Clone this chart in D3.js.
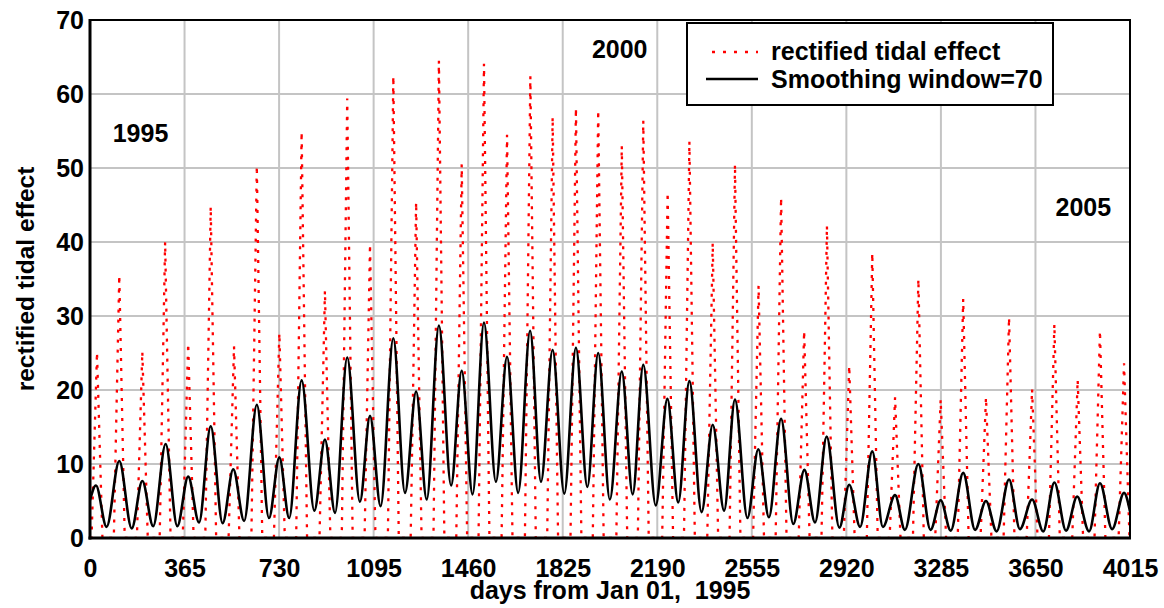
<!DOCTYPE html>
<html>
<head>
<meta charset="utf-8">
<script src="https://cdn.jsdelivr.net/npm/d3@7"></script>
<style>
  html, body { margin: 0; padding: 0; background: #fff; }
  svg text { font-family: "Liberation Sans", Arial, sans-serif; font-weight: bold; fill: #000; white-space: pre; }
</style>
</head>
<body>
<svg id="chart" width="1164" height="608"></svg>
<script>
// ---------- data ----------
const xTicks = [0, 365, 730, 1095, 1460, 1825, 2190, 2555, 2920, 3285, 3650, 4015];
const yTicks = [0, 10, 20, 30, 40, 50, 60, 70];

// rectified tidal effect: spike peaks (day, value)
const spikeDays = [27, 113, 202, 290, 379, 466, 556, 644, 731, 817, 907, 993, 1081, 1171, 1259, 1347,
  1435, 1521, 1610, 1700, 1786, 1876, 1962, 2053, 2136, 2230, 2314, 2404, 2490, 2581, 2668, 2757,
  2845, 2931, 3020, 3108, 3198, 3284, 3371, 3459, 3548, 3637, 3723, 3813, 3899, 3992];
const spikeValues = [25.1, 35.5, 25.2, 40.0, 26.3, 44.8, 25.9, 50.3, 27.7, 54.9, 33.4, 59.4, 39.7, 62.4, 45.4, 64.5,
  50.5, 64.1, 54.5, 62.4, 56.9, 58.1, 57.8, 53.0, 56.4, 46.7, 53.6, 39.9, 50.5, 34.1, 46.0, 28.0,
  42.2, 23.3, 38.5, 19.0, 35.0, 18.7, 32.3, 19.0, 29.8, 20.1, 28.9, 21.4, 28.0, 23.6];
// each spike falls back to ~0 about this many days either side of its peak
const spikeHalfBase = 21;
const spikeFloor = 0;

// smoothing window = 70: successive extremes (day, value)
const smoothDays = [0, 23, 64, 113, 161, 202, 244, 292, 337, 379, 421, 466, 512, 553, 595, 644, 691, 731, 769,
  817, 866, 907, 946, 993, 1042, 1081, 1122, 1171, 1216, 1259, 1300, 1347, 1394, 1435, 1477, 1521, 1567,
  1610, 1653, 1699, 1741, 1786, 1831, 1876, 1920, 1962, 2007, 2053, 2095, 2136, 2184, 2229, 2271, 2314,
  2361, 2404, 2448, 2490, 2538, 2580, 2621, 2668, 2715, 2758, 2799, 2844, 2893, 2931, 2973, 3020, 3061,
  3108, 3146, 3198, 3245, 3284, 3323, 3371, 3417, 3459, 3500, 3548, 3590, 3637, 3680, 3723, 3768, 3811,
  3857, 3899, 3946, 3992, 4015];
const smoothValues = [5.1, 7.1, 1.5, 10.4, 1.3, 7.7, 1.6, 12.7, 1.6, 8.3, 2.1, 15.1, 2.0, 9.3, 2.3, 18.0, 2.7, 10.9, 2.7,
  21.3, 3.7, 13.3, 3.4, 24.4, 4.9, 16.5, 4.3, 27.0, 6.1, 19.8, 5.2, 28.7, 7.1, 22.6, 5.9, 29.1, 7.6,
  24.5, 6.1, 28.0, 7.6, 25.4, 6.0, 25.7, 6.9, 25.0, 5.2, 22.5, 5.9, 23.4, 4.4, 18.8, 4.8, 21.2,
  3.5, 15.3, 3.7, 18.7, 2.7, 12.0, 2.8, 16.1, 1.9, 9.2, 2.1, 13.7, 1.4, 7.2, 1.5, 11.7, 1.5,
  5.8, 1.1, 10.0, 1.1, 5.1, 1.0, 8.8, 1.1, 5.0, 0.9, 7.9, 1.2, 5.2, 0.9, 7.5, 1.0, 5.6,
  0.9, 7.4, 1.2, 6.1, 3.6];

const yearLabels = ["1995", "2000", "2005"];
const yearDays = [195, 2045, 3835];
const yearValues = [53.5, 64.9, 43.5];

const seriesNames = ["rectified tidal effect", "Smoothing window=70"];
const xTitle = "days from Jan 01,  1995";
const yTitle = "rectified tidal effect";

// ---------- drawing ----------
const FS = 25;
const svg = d3.select("#chart");
const L = 90, R = 1130, T = 20, B = 538;
const x = d3.scaleLinear().domain([0, 4015]).range([L, R]);
const y = d3.scaleLinear().domain([0, 70]).range([B, T]);

svg.append("defs").append("clipPath").attr("id", "clip")
  .append("rect").attr("x", L).attr("y", T).attr("width", R - L).attr("height", B - T);

// grid
const grid = svg.append("g").attr("stroke", "#c4c4c4").attr("stroke-width", 2);
grid.selectAll("line.v").data(xTicks.slice(1, -1)).join("line")
  .attr("x1", d => x(d)).attr("x2", d => x(d)).attr("y1", T).attr("y2", B);
grid.selectAll("line.h").data(yTicks.slice(1, -1)).join("line")
  .attr("x1", L).attr("x2", R).attr("y1", d => y(d)).attr("y2", d => y(d));

// red spikes
const redPts = [[0, spikeFloor]];
spikeDays.forEach((d, i) => {
  redPts.push([d - spikeHalfBase, spikeFloor], [d, spikeValues[i]], [d + spikeHalfBase, spikeFloor]);
});
redPts.push([4015, spikeFloor]);
const plot = svg.append("g").attr("clip-path", "url(#clip)");
plot.append("path")
  .attr("d", d3.line().x(p => x(p[0])).y(p => y(p[1]))(redPts))
  .attr("fill", "none").attr("stroke", "#ff0000").attr("stroke-width", 2.3)
  .attr("stroke-dasharray", "3,7");

// smoothed curve
const smoothPts = smoothDays.map((d, i) => [d, smoothValues[i]]);
plot.append("path")
  .attr("d", d3.line().x(p => x(p[0])).y(p => y(p[1])).curve(d3.curveMonotoneX)(smoothPts))
  .attr("fill", "none").attr("stroke", "#000").attr("stroke-width", 2.6);

// frame
svg.append("rect").attr("x", L).attr("y", T).attr("width", R - L).attr("height", B - T)
  .attr("fill", "none").attr("stroke", "#000").attr("stroke-width", 2);
svg.append("line").attr("x1", L).attr("x2", L).attr("y1", T - 1).attr("y2", B + 1.5)
  .attr("stroke", "#000").attr("stroke-width", 3);
svg.append("line").attr("x1", L - 1.5).attr("x2", R + 1).attr("y1", B).attr("y2", B)
  .attr("stroke", "#000").attr("stroke-width", 3);

// axes
const xAxis = svg.append("g").attr("transform", `translate(0,${B})`)
  .call(d3.axisBottom(x).tickValues(xTicks).tickSize(0).tickPadding(21).tickFormat(d3.format("d")));
xAxis.select(".domain").remove();
xAxis.selectAll("text").attr("font-size", FS).style("font-family", '"Liberation Sans", Arial, sans-serif').style("font-weight", "bold");

const yAxis = svg.append("g").attr("transform", `translate(${L},0)`)
  .call(d3.axisLeft(y).tickValues(yTicks).tickSize(0).tickPadding(6).tickFormat(d3.format("d")));
yAxis.select(".domain").remove();
yAxis.selectAll("text").attr("font-size", FS).style("font-family", '"Liberation Sans", Arial, sans-serif').style("font-weight", "bold");

// titles
svg.append("text").attr("x", (L + R) / 2).attr("y", 599).attr("text-anchor", "middle")
  .attr("font-size", FS).text(xTitle);
svg.append("text").attr("transform", `translate(34,${(T + B) / 2}) rotate(-90)`).attr("text-anchor", "middle")
  .attr("font-size", FS - 0.5).text(yTitle);

// year annotations
svg.selectAll("text.year").data(yearLabels).join("text").attr("class", "year")
  .attr("x", (d, i) => x(yearDays[i])).attr("y", (d, i) => y(yearValues[i]))
  .attr("text-anchor", "middle").attr("font-size", FS).text(d => d);

// legend
const lg = svg.append("g");
lg.append("rect").attr("x", 687).attr("y", 23).attr("width", 366).attr("height", 82)
  .attr("fill", "#fff").attr("stroke", "#000").attr("stroke-width", 2);
lg.append("line").attr("x1", 712).attr("x2", 758).attr("y1", 52).attr("y2", 52)
  .attr("stroke", "#ff0000").attr("stroke-width", 2.3).attr("stroke-dasharray", "3,8");
lg.append("line").attr("x1", 706).attr("x2", 758).attr("y1", 79).attr("y2", 79)
  .attr("stroke", "#000").attr("stroke-width", 2.6);
lg.selectAll("text").data(seriesNames).join("text")
  .attr("x", 771).attr("y", (d, i) => 60 + i * 28).attr("font-size", FS).text(d => d);
</script>
</body>
</html>
